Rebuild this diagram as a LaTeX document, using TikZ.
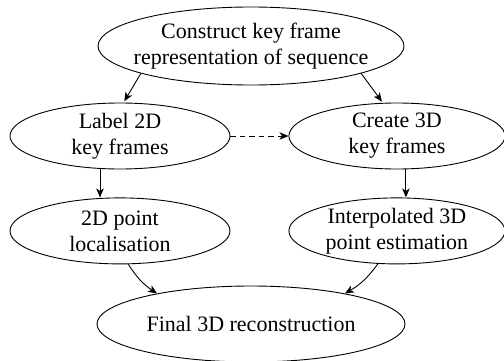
\documentclass[tikz,border=0pt]{standalone}
\usepackage{fontspec}
\setmainfont{Liberation Serif}
\usepackage{tikz}
\usetikzlibrary{arrows.meta, positioning, shapes.geometric}

\begin{document}
\begin{tikzpicture}[
  x=1bp, y=1bp,
  node distance=28bp and 58bp,
  task/.style={draw, ellipse, line width=0.9bp, align=center,
    inner xsep=-40bp, inner ysep=-8bp,
    font=\fontsize{22bp}{26bp}\selectfont},
  flow/.style={line width=0.9bp, -{Stealth[length=9bp, width=7.5bp, inset=2.5bp]}},
  link/.style={flow, dash pattern=on 5.5bp off 4bp}
]
\useasboundingbox (0,0) rectangle (504,360);
\node[task, minimum width=306bp, minimum height=78bp] (build) at (251,314) {Construct key frame\\representation of sequence};
\node[task, minimum width=220bp, minimum height=66bp] (label) at (120,224) {Label 2D\\key frames};
\node[task, minimum width=216bp, minimum height=66bp, right=of label] (create) {Create 3D\\key frames};
\node[task, minimum width=220bp, minimum height=66bp, below=of label] (local) {2D point\\localisation};
\node[task, minimum width=216bp, minimum height=66bp, below=of create] (interp) {Interpolated 3D\\point estimation};
\node[task, minimum width=308bp, minimum height=76bp] (final) at (251,36) {Final 3D reconstruction};
\draw[flow, shorten >=1.5bp] (build.194) -- (label.84);
\draw[flow, shorten >=1.5bp] (build.346) -- (create.113);
\draw[link] (label) -- (create);
\draw[flow] ([xshift=-20bp]label.south) -- ([xshift=-20bp]local.north);
\draw[flow] ([xshift=9bp]create.south) -- ([xshift=9bp]interp.north);
\draw[flow] (local.284) to[bend right=12] (final.162);
\draw[flow] (interp.240) to[bend left=12] (final.18);
\end{tikzpicture}
\end{document}
